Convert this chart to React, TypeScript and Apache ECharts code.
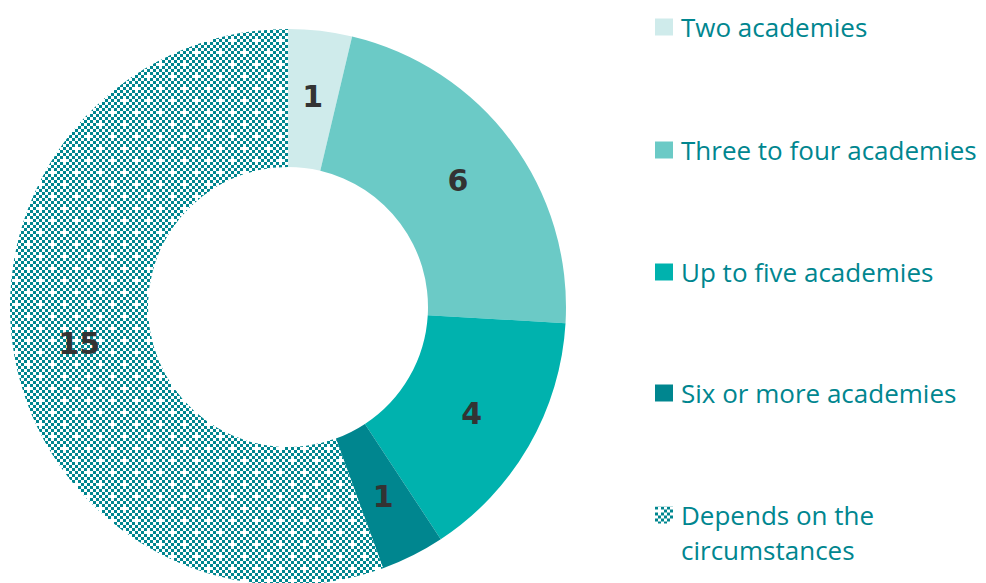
import React, { useEffect, useRef } from "react";
import * as echarts from "echarts";

const categories = [
  "Two academies",
  "Three to four academies",
  "Up to five academies",
  "Six or more academies",
  "Depends on the circumstances",
];
const legendLabels = [
  "Two academies",
  "Three to four academies",
  "Up to five academies",
  "Six or more academies",
  "Depends on the",
];
const legendContinuation = "circumstances";
const values = [1, 6, 4, 1, 15];
const colors = ["#CFEBEB", "#6BCAC6", "#00B2AE", "#00868F", "pattern"];
const legendCenters = [27, 150, 272, 393, 515];

function makePattern(): string {
  const cell = 3;
  const n = 8;
  const c = document.createElement("canvas");
  c.width = cell * n;
  c.height = cell * n;
  const ctx = c.getContext("2d")!;
  ctx.fillStyle = "#ffffff";
  ctx.fillRect(0, 0, c.width, c.height);
  ctx.fillStyle = "#00868F";
  const holes = new Set(["1,1", "5,5"]);
  for (let i = 0; i < n; i++) {
    for (let j = 0; j < n; j++) {
      if ((i + j) % 2 === 0 && !holes.has(i + "," + j)) {
        ctx.fillRect(i * cell, j * cell, cell, cell);
      }
    }
  }
  return c.toDataURL();
}

export default function App() {
  const ref = useRef<HTMLDivElement>(null);
  useEffect(() => {
    document.body.style.margin = "0";
    const chart = echarts.init(ref.current!, null, { renderer: "svg" });
    const pat = makePattern();
    const data = categories.map((name, i) => ({
      name,
      value: values[i],
      itemStyle: {
        color:
          colors[i] === "pattern"
            ? ({ image: pat, repeat: "repeat" } as any)
            : colors[i],
      },
    }));
    const textStyle = {
      color: "#00868F",
      fontSize: 26,
      fontFamily: "Open Sans",
      lineHeight: 35,
      padding: [0, 0, 0, 3],
    };
    const legends = categories.map((name, i) => ({
      orient: "vertical",
      left: 655,
      top: legendCenters[i] - 17.5,
      icon: "rect",
      itemWidth: 18,
      itemHeight: 17,
      itemGap: 0,
      padding: 0,
      selectedMode: false,
      data: [name],
      formatter: () => legendLabels[i],
      textStyle,
    }));
    chart.setOption({
      animation: false,
      backgroundColor: "#ffffff",
      legend: legends,
      graphic: [
        {
          type: "text",
          left: 681,
          top: 550 - 17.5,
          style: {
            text: legendContinuation,
            fill: "#00868F",
            fontSize: 26,
            fontFamily: "Open Sans",
            lineHeight: 35,
          },
        },
      ],
      series: [
        {
          type: "pie",
          center: [288, 307],
          radius: [140, 278],
          startAngle: 90,
          clockwise: true,
          avoidLabelOverlap: false,
          label: {
            show: true,
            position: "inside",
            formatter: "{c}",
            color: "#333333",
            fontSize: 30,
            fontWeight: "bold",
            fontFamily: "DejaVu Sans",
          },
          labelLine: { show: false },
          emphasis: { disabled: true },
          data,
        },
      ],
    });
    return () => chart.dispose();
  }, []);
  return <div ref={ref} style={{ width: 986, height: 583 }} />;
}
